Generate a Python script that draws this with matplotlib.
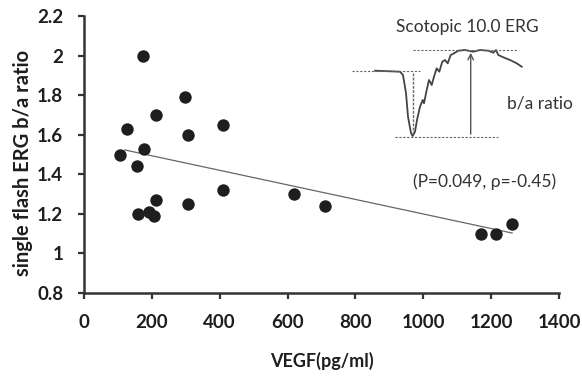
import matplotlib
matplotlib.use("Agg")
import matplotlib.pyplot as plt
import numpy as np

plt.rcParams['font.family'] = ['Lato', 'DejaVu Sans']

# VEGF (pg/ml) vs single flash ERG b/a ratio
vegf = [105, 126, 156, 159, 174, 177, 192, 207, 211, 213,
        299, 307, 307, 410, 410, 619, 710, 1171, 1213, 1262]
ba_ratio = [1.50, 1.63, 1.44, 1.20, 2.00, 1.53, 1.21, 1.19, 1.70, 1.27,
            1.79, 1.60, 1.25, 1.65, 1.32, 1.30, 1.24, 1.10, 1.10, 1.15]

# regression line end points
fit_x = [120, 1262]
fit_y = [1.523, 1.103]

# sketch of the scotopic 10.0 ERG trace (time, amplitude; arbitrary units)
trace_t = [0, 25, 28, 31, 33, 36, 37.7, 40, 42, 45, 47.7, 49, 51.7, 54, 56.7, 59,
           61.7, 64.3, 67.3, 70, 72.7, 75.7, 79, 83.3, 90, 98.3, 105, 113.3, 118.3,
           121, 123.3, 128.3, 135, 141.7, 146.7]
trace_v = [0.3, -0.7, -4, -22, -45.7, -62, -65, -60.7, -49, -35.7, -29, -32.3, -19,
           -9, -14, -5.7, 2.7, -0.7, 9.3, 11, 7.7, 16, 17.7, 20.3, 21, 19.3, 21,
           20.3, 18.3, 21, 16, 13.7, 11, 7.7, 4.3]

xticks = [0, 200, 400, 600, 800, 1000, 1200, 1400]
yticks = [0.8, 1, 1.2, 1.4, 1.6, 1.8, 2, 2.2]
ytick_labels = ['0.8', '1', '1.2', '1.4', '1.6', '1.8', '2', '2.2']

fig = plt.figure(figsize=(5.82, 3.76), dpi=100)
ax = fig.add_axes([84/582, 1-293/376, 475/582, 277/376])

ax.scatter(vegf, ba_ratio, s=80, color='#1e1e1e', zorder=3, linewidths=0)
ax.plot(fit_x, fit_y, color='#666666', lw=0.9, zorder=2)

ax.set_xlim(0, 1400)
ax.set_ylim(0.8, 2.2)
ax.set_xticks(xticks)
ax.set_yticks(yticks)
ax.set_yticklabels(ytick_labels)
for s in ['top', 'right']:
    ax.spines[s].set_visible(False)
for s in ['left', 'bottom']:
    ax.spines[s].set_linewidth(1.8)
    ax.spines[s].set_color('#333333')
ax.tick_params(axis='both', direction='out', length=4, width=1.6, colors='#333333',
               labelsize=13.5, labelcolor='#1e1e1e')
ax.tick_params(axis='x', pad=11)
ax.tick_params(axis='y', pad=11)
for lab in ax.get_xticklabels() + ax.get_yticklabels():
    lab.set_fontweight('bold')

ax.set_xlabel('VEGF(pg/ml)', fontsize=13, fontweight='bold', color='#1e1e1e')
ax.set_ylabel('single flash ERG b/a ratio', fontsize=14.5, fontweight='bold', color='#1e1e1e')
ax.xaxis.set_label_coords(0.5, -0.213)
ax.yaxis.set_label_coords(-0.108, 0.47)

ax.text(1129, 2.144, 'Scotopic 10.0 ERG', ha='center', va='center', fontsize=12.5, color='#333333')
ax.text(1247, 1.76, 'b/a ratio', ha='left', va='center', fontsize=12.5, color='#333333')
ax.text(1182, 1.361, '(P=0.049, ρ=-0.45)', ha='center', va='center', fontsize=12.5, color='#333333')

# inset ERG waveform
ins = fig.add_axes([345/582, 1-145/376, 185/582, 105/376])
ins.set_xlim(-30, 155)
ins.set_ylim(-74, 31)
ins.axis('off')
ins.plot(trace_t, trace_v, color='#444444', lw=1.3)
dash = dict(color='#666666', lw=0.8, linestyle=(0, (2, 1.5)))
ins.plot([-23, 45], [0, 0], **dash)
ins.plot([38, 142], [21, 21], **dash)
ins.plot([20, 123], [-66, -66], **dash)
ins.plot([37.7, 37.7], [-2, -64], color='#666666', lw=1.0, linestyle=(0, (2, 1)))
ins.annotate('', xy=(95.7, 21), xytext=(95.7, -66),
             arrowprops=dict(arrowstyle='->', color='#555555', lw=1.0))

fig.savefig('out.png', dpi=100)
